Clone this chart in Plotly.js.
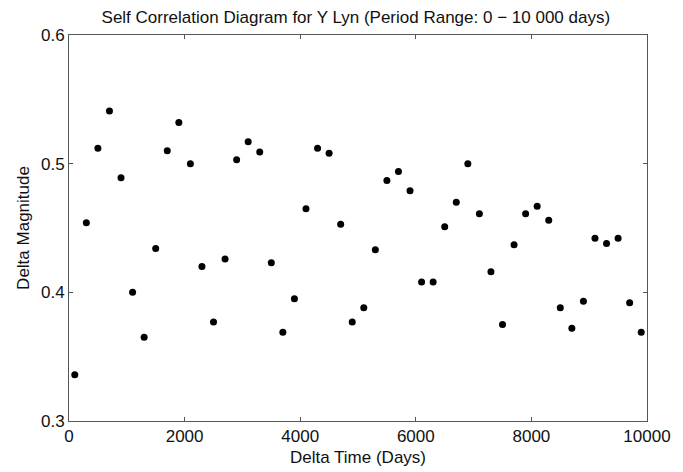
<!DOCTYPE html>
<html>
<head>
<meta charset="utf-8">
<script src="https://cdn.plot.ly/plotly-3.0.1.min.js"></script>
<style>html,body{margin:0;padding:0;background:#fff;}#chart{width:683px;height:472px;}</style>
</head>
<body>
<div id="chart"></div>
<script>
const deltaTime = [100,300,500,700,900,1100,1300,1500,1700,1900,2100,2300,2500,2700,2900,3100,3300,3500,3700,3900,4100,4300,4500,4700,4900,5100,5300,5500,5700,5900,6100,6300,6500,6700,6900,7100,7300,7500,7700,7900,8100,8300,8500,8700,8900,9100,9300,9500,9700,9900];
const deltaMag = [0.336,0.454,0.512,0.541,0.489,0.400,0.365,0.434,0.510,0.532,0.500,0.420,0.377,0.426,0.503,0.517,0.509,0.423,0.369,0.395,0.465,0.512,0.508,0.453,0.377,0.388,0.433,0.487,0.494,0.479,0.408,0.408,0.451,0.470,0.500,0.461,0.416,0.375,0.437,0.461,0.467,0.456,0.388,0.372,0.393,0.442,0.438,0.442,0.392,0.369];
const xTicks = [0,2000,4000,6000,8000,10000];
const yTicks = [0.3,0.4,0.5,0.6];

const fontFam = 'Liberation Sans, Arial, sans-serif';
const axisCommon = {
  showgrid: false, zeroline: false, showline: true, linecolor: '#555', linewidth: 1,
  mirror: 'allticks', ticks: 'inside', ticklen: 4, tickcolor: '#555',
  tickfont: {family: fontFam, size: 17, color: '#111'}
};
Plotly.newPlot('chart', [{
  x: deltaTime, y: deltaMag, type: 'scatter', mode: 'markers',
  marker: {color: '#000', size: 7}
}], {
  width: 683, height: 472,
  margin: {l: 69, r: 36, t: 35, b: 51},
  paper_bgcolor: '#fff', plot_bgcolor: '#fff',
  showlegend: false,
  title: {text: 'Self Correlation Diagram for Y Lyn (Period Range: 0 − 10 000 days)', font: {family: fontFam, size: 17, color: '#111'}, x: 0.521, xanchor: 'center', y: 0.963, yanchor: 'middle'},
  xaxis: Object.assign({}, axisCommon, {range: [0, 10000], tickvals: xTicks, ticktext: xTicks.map(String),
    title: {text: 'Delta Time (Days)', font: {family: fontFam, size: 17, color: '#111'}, standoff: 5}}),
  yaxis: Object.assign({}, axisCommon, {range: [0.3, 0.6], tickvals: yTicks, ticktext: yTicks.map(v => v.toFixed(1)),
    title: {text: 'Delta Magnitude', font: {family: fontFam, size: 17, color: '#111'}, standoff: 7}})
}, {staticPlot: true});
</script>
</body>
</html>
